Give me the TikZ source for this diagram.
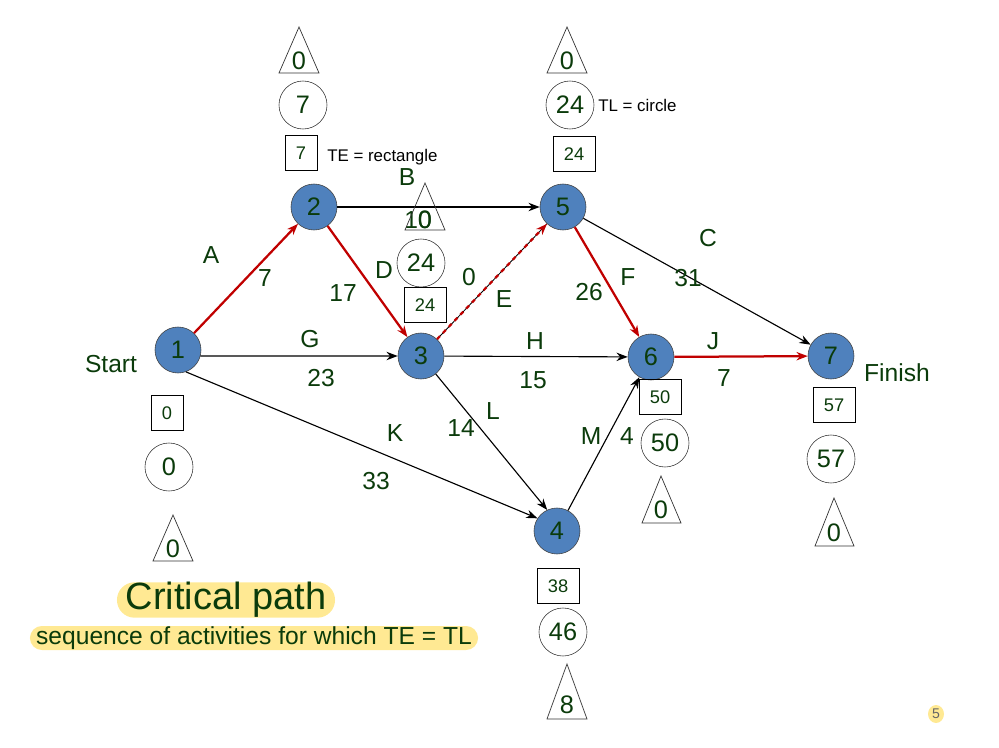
\documentclass[tikz,border=0pt]{standalone}
\usepackage{fontspec}
\setmainfont{Liberation Sans}
\usetikzlibrary{arrows.meta, shapes.geometric}

\definecolor{Txt}{HTML}{0B3B0B}
\definecolor{Ev}{HTML}{4F81BD}
\definecolor{Crit}{HTML}{C00000}
\definecolor{Hl}{HTML}{FFE993}

\begin{document}
\begin{tikzpicture}[x={(0.025cm,0cm)}, y={(0cm,-0.025cm)},
  ev/.style={circle, fill=Ev, draw=black!75, minimum size=1.15cm, inner sep=0pt, text=Txt, font=\fontsize{18}{20}\selectfont},
  lbl/.style={text=Txt, inner sep=1pt, font=\fontsize{17.5}{20}\selectfont},
  te/.style={draw, rectangle, minimum width=1.05cm, minimum height=0.87cm, inner sep=0pt, text=Txt, font=\fontsize{13}{15}\selectfont},
  tl/.style={draw=black!80, circle, minimum size=1.2cm, inner sep=0pt, text=Txt, font=\fontsize{18}{20}\selectfont},
  sl/.style={text=Txt, inner sep=0pt, font=\fontsize{18}{20}\selectfont},
  tri/.style={draw=black!80, line width=0.5pt},
  act/.style={-{Stealth[length=8pt,width=6pt]}, line width=0.8pt},
  crit/.style={act, color=Crit, line width=1.6pt},
  note/.style={text=black, inner sep=0pt, font=\fontsize{12}{14}\selectfont}]

  \useasboundingbox (0,0) rectangle (999,748);

  %%%%%%%%%%%%%%%% EVENTS %%%%%%%%%%%%%%%%
  \node[ev] (1) at (178,350) {1};
  \node[ev] (2) at (314,207) {2};
  \node[ev] (3) at (421,356) {3};
  \node[ev] (5) at (563,207) {5};
  \node[ev] (6) at (651,357) {6};
  \node[ev] (7) at (831,356) {7};
  \node[ev] (4) at (557,531) {4};

  \node[lbl] (start) at (111,364) {Start};
  \node[lbl] (finish) at (897,373) {Finish};

  %%%%%%%%%%%%%%%% ACTIVITIES %%%%%%%%%%%%%%%%
  \draw[act] (2) -- (5);
  \draw[act] (1.-15) -- (3);
  \draw[act] (1.-70) -- (4.147);
  \draw[act] (3) -- (6);
  \draw[act] (3) -- (4.115);
  \draw[act] (5) -- (7);
  \draw[act] (4) -- (6.-120);
  \draw[line width=0.6pt] (3) -- (5);

  % Critical path
  \draw[crit] (1) -- (2);
  \draw[crit] (2) -- (3);
  \draw[crit, dashed] (3) -- (5);
  \draw[crit] (5) -- (6);
  \draw[crit] (6) -- (7);

  % Labels
  \node[lbl] (lA) at (211,255) {A};
  \node[lbl] (dA) at (265,278) {7};
  \node[lbl] (lB) at (407,177) {B};
  \node[lbl] (dB) at (418,220) {10};
  \node[lbl] (lC) at (708,238) {C};
  \node[lbl] (dC) at (688,278) {31};
  \node[lbl] (lD) at (384,270) {D};
  \node[lbl] (dD) at (343,293) {17};
  \node[lbl] (lE) at (504,299) {E};
  \node[lbl] (dE) at (469,277) {0};
  \node[lbl] (lF) at (628,277) {F};
  \node[lbl] (dF) at (589,292) {26};
  \node[lbl] (lG) at (310,339) {G};
  \node[lbl] (dG) at (321,378) {23};
  \node[lbl] (lH) at (535,341) {H};
  \node[lbl] (dH) at (533,380) {15};
  \node[lbl] (lJ) at (713,341) {J};
  \node[lbl] (dJ) at (724,378) {7};
  \node[lbl] (lK) at (395,433) {K};
  \node[lbl] (dK) at (376,481) {33};
  \node[lbl] (lL) at (493,411) {L};
  \node[lbl] (dL) at (461,428) {14};
  \node[lbl] (lM) at (591,436) {M};
  \node[lbl] (dM) at (627,436) {4};

  %%%%%%%%%%%%%%%% TE / TL / SLACK %%%%%%%%%%%%%%%%
  % event 1
  \node[te, minimum width=0.8cm] (te1) at (167,413) {0};
  \node[tl] (tl1) at (169,467) {0};
  \draw[tri] (173,515) -- (153,561) -- (193,561) -- cycle;
  \node[sl] (sl1) at (173,549) {0};

  % event 2
  \draw[tri] (299,27) -- (279,73) -- (319,73) -- cycle;
  \node[sl] (sl2) at (299,61) {0};
  \node[tl] (tl2) at (303,105) {7};
  \node[te, minimum width=0.8cm] (te2) at (301,153) {7};
  \node[note, anchor=west] (tenote) at (327,157) {TE = rectangle};

  % event 3
  \draw[tri] (425,183) -- (405,230) -- (445,230) -- cycle;
  \node[sl] (sl3) at (425,220) {0};
  \node[tl] (tl3) at (421,263) {24};
  \node[te] (te3) at (425,305) {24};

  % event 5
  \draw[tri] (567,27) -- (547,73) -- (587,73) -- cycle;
  \node[sl] (sl5) at (567,61) {0};
  \node[tl] (tl5) at (570,105) {24};
  \node[note, anchor=west] (tlnote) at (598,105) {TL = circle};
  \node[te] (te5) at (574,154) {24};

  % event 6
  \node[te] (te6) at (660,397) {50};
  \node[tl] (tl6) at (665,443) {50};
  \draw[tri] (661,476) -- (642,523) -- (681,523) -- cycle;
  \node[sl] (sl6) at (661,510) {0};

  % event 7
  \node[te] (te7) at (834,405) {57};
  \node[tl] (tl7) at (831,459) {57};
  \draw[tri] (834,498) -- (815,546) -- (854,546) -- cycle;
  \node[sl] (sl7) at (834,533) {0};

  % event 4
  \node[te] (te4) at (558,586) {38};
  \node[tl] (tl4) at (563,632) {46};
  \draw[tri] (567,664) -- (547,719) -- (587,719) -- cycle;
  \node[sl] (sl4) at (567,705) {8};

  %%%%%%%%%%%%%%%% CAPTION %%%%%%%%%%%%%%%%
  \node[fill=Hl, rounded corners=0.44cm, minimum width=5.45cm, minimum height=0.88cm, inner sep=0pt,
        text=Txt, font=\fontsize{27}{30}\selectfont] (crit) at (226,600) {Critical path};
  \node[fill=Hl, rounded corners=0.3cm, minimum width=11.2cm, minimum height=0.6cm, inner sep=0pt,
        text=Txt, font=\fontsize{17.5}{19}\selectfont] (seq) at (254,638) {sequence of activities for which TE = TL};

  \node[ellipse, fill=Hl, minimum width=0.4cm, minimum height=0.45cm, inner sep=0pt,
        text=black!60, font=\fontsize{10}{12}\selectfont] (page) at (936,714) {5};

\end{tikzpicture}
\end{document}
